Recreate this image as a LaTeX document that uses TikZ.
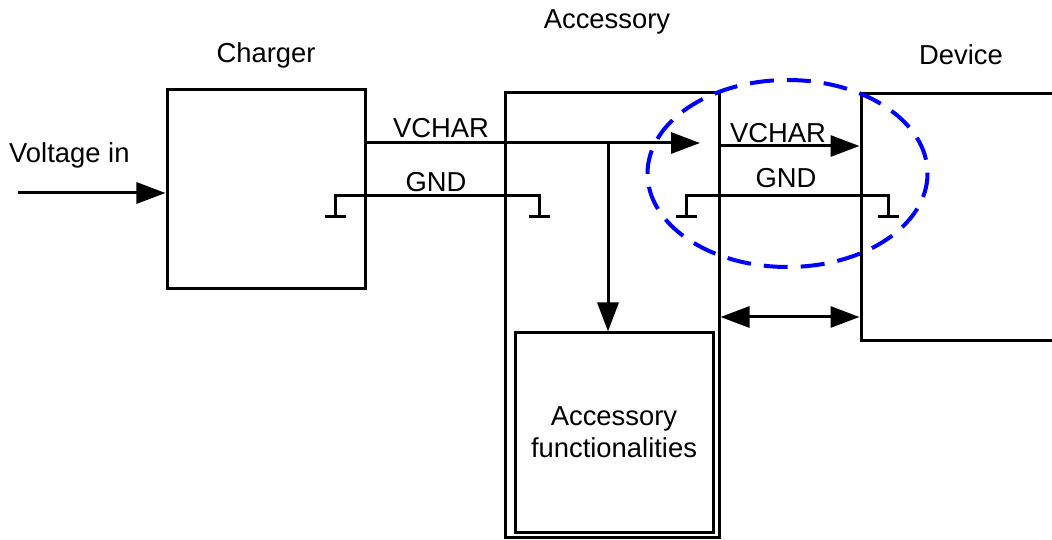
\documentclass[tikz,border=0pt]{standalone}
\usepackage{fontspec}
\setmainfont{Liberation Sans}
\usetikzlibrary{arrows.meta}
\begin{document}
\begin{tikzpicture}[x=1bp,y=-1bp,
  box/.style={draw, line width=3bp, inner sep=0pt, rectangle},
  wire/.style={line width=3bp},
  arr/.style={wire, -{Triangle[length=29bp,width=21bp]}},
  darr/.style={wire, {Triangle[length=29bp,width=21bp]}-{Triangle[length=29bp,width=21bp]}},
  lbl/.style={font=\fontsize{27.5}{32}\selectfont, inner sep=0pt, align=center},
  gbar/.style={wire}]
\clip (0,0) rectangle (1052,540);
\fill[white] (0,0) rectangle (1052,540);
% boxes
\node[box, minimum width=198bp, minimum height=198bp] (charger) at (266,189) {};
\node[box, minimum width=214bp, minimum height=444bp] (acc) at (612,315) {};
\node[box, minimum width=198bp, minimum height=199bp] (func) at (614,432.5) {};
\node[box, minimum width=240bp, minimum height=246bp] (device) at (981,217) {};
% titles
\node[lbl] (tcharger) at (266,55) {Charger};
\node[lbl] (tacc) at (607,22) {Accessory};
\node[lbl] (tdevice) at (961,55) {Device};
\node[lbl, anchor=west] (tvin) at (9,155) {Voltage in};
\node[lbl] (tfunc) at (614,432) {Accessory\\functionalities};
% voltage in
\coordinate (vinstart) at (18,193);
\draw[arr] (vinstart) -- (charger.west |- vinstart);
% VCHAR charger -> accessory
\coordinate (v1) at (700,143);
\coordinate (vbranch) at (608,143);
\draw[arr] (charger.east |- v1) -- (v1);
\draw[arr] (vbranch) -- (func.north -| vbranch);
\node[lbl] (lv1) at (441,128) {VCHAR};
% GND charger -> accessory
\coordinate (g1a) at (335,196);
\coordinate (g1b) at (539,196);
\draw[wire] ([yshift=-21bp]g1a) -- (g1a) -- (g1b) -- ([yshift=-21bp]g1b);
\draw[gbar] ([xshift=-10.5bp,yshift=-21bp]g1a) -- ([xshift=10.5bp,yshift=-21bp]g1a);
\draw[gbar] ([xshift=-10.5bp,yshift=-21bp]g1b) -- ([xshift=10.5bp,yshift=-21bp]g1b);
\node[lbl] (lg1) at (436,182) {GND};
% VCHAR accessory -> device
\coordinate (v2) at (720,146);
\draw[arr] (acc.east |- v2) -- (device.west |- v2);
\node[lbl] (lv2) at (778,133) {VCHAR};
% GND accessory -> device
\coordinate (g2a) at (686,196);
\coordinate (g2b) at (888,196);
\draw[wire] ([yshift=-21bp]g2a) -- (g2a) -- (g2b) -- ([yshift=-21bp]g2b);
\draw[gbar] ([xshift=-10.5bp,yshift=-21bp]g2a) -- ([xshift=10.5bp,yshift=-21bp]g2a);
\draw[gbar] ([xshift=-10.5bp,yshift=-21bp]g2b) -- ([xshift=10.5bp,yshift=-21bp]g2b);
\node[lbl] (lg2) at (786,178) {GND};
% bidirectional
\coordinate (bd) at (720,317);
\draw[darr] (acc.east |- bd) -- (device.west |- bd);
% ellipse
\draw[draw={rgb,255:red,0;green,0;blue,255}, line width=4bp, dash pattern=on 24bp off 13bp] (787.5,173.5) ellipse [x radius=140, y radius=93.5];
\end{tikzpicture}
\end{document}
